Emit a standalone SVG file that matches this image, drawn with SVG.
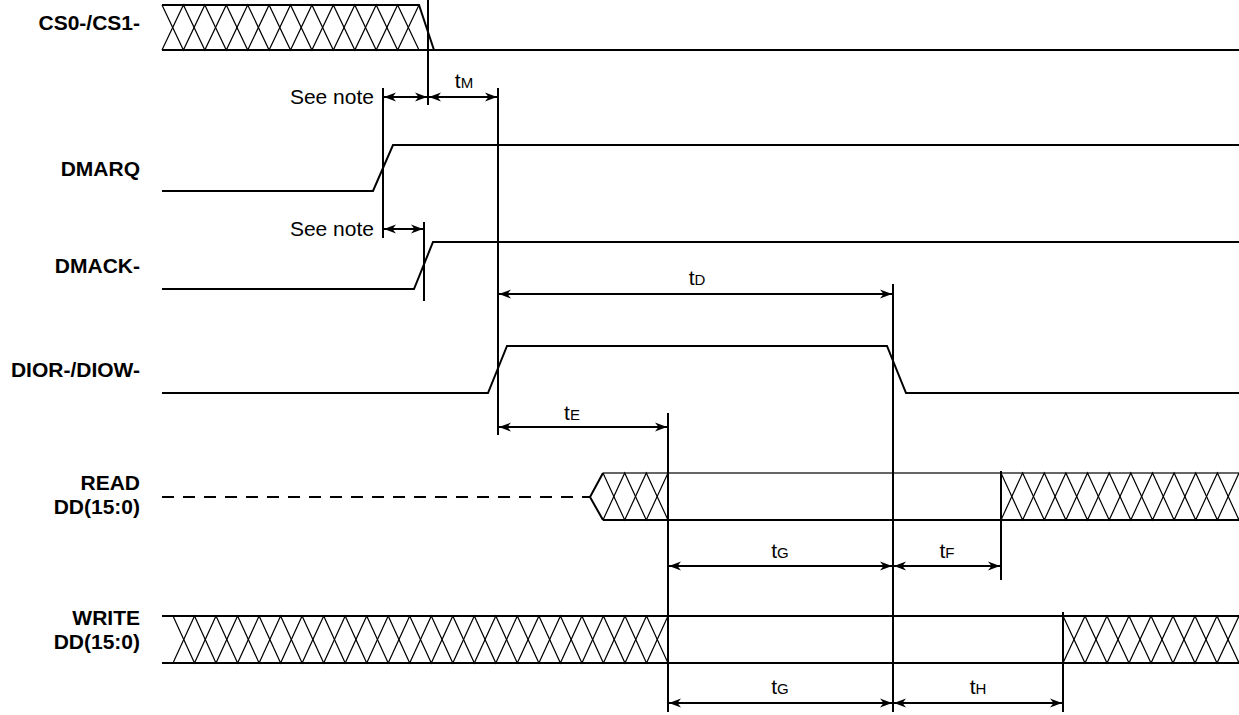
<svg xmlns="http://www.w3.org/2000/svg" width="1239" height="715" viewBox="0 0 1239 715">
<style>
.sig{stroke:#000;stroke-width:2;fill:none}
.thin{stroke:#333;stroke-width:1.5;fill:none}
.hatch{stroke:#000;stroke-width:1.2;fill:none}
.ref{stroke:#000;stroke-width:2;fill:none}
.arr{stroke:#000;stroke-width:2;fill:none;marker-start:url(#ah);marker-end:url(#ah)}
.lbl{font-family:"Liberation Sans",Arial,sans-serif;font-weight:bold;font-size:21px;text-anchor:end;fill:#000}
.note{font-family:"Liberation Sans",Arial,sans-serif;font-size:21px;text-anchor:end;fill:#000}
.tl{font-family:"Liberation Sans",Arial,sans-serif;font-size:21px;text-anchor:middle;fill:#000}
.sub{font-size:15px}
</style>
<defs>
<marker id="ah" viewBox="0 0 12 10" refX="12" refY="5" markerWidth="12" markerHeight="10" markerUnits="userSpaceOnUse" orient="auto-start-reverse">
<path d="M0,0.5 L12,5 L0,9.5 L3.5,5 z" fill="#000"/>
</marker>
</defs>
<rect width="1239" height="715" fill="#fff"/>

<g id="sig-cs">
<text class="lbl" x="140" y="30">CS0-/CS1-</text>
<polyline class="sig" points="162,5 419,5 434,50"/>
<polyline class="sig" points="162,50 1239,50"/>
<polyline class="hatch" points="162,5 183.4,50 204.8,5 226.3,50 247.7,5 269.1,50 290.5,5 311.9,50 333.3,5 354.8,50 376.2,5 397.6,50 419,5"/>
<polyline class="hatch" points="162,50 183.4,5 204.8,50 226.3,5 247.7,50 269.1,5 290.5,50 311.9,5 333.3,50 354.8,5 376.2,50 397.6,5 419,50"/>
</g>

<g id="sig-dmarq">
<text class="lbl" x="140" y="176">DMARQ</text>
<polyline class="sig" points="162,191 373,191 393,145 1239,145"/>
</g>

<g id="sig-dmack">
<text class="lbl" x="140" y="273">DMACK-</text>
<polyline class="sig" points="162,289 414,289 433,242 1239,242"/>
</g>

<g id="sig-dior">
<text class="lbl" x="140" y="377">DIOR-/DIOW-</text>
<polyline class="sig" points="162,393 488,393 507,346 887,346 906,393 1239,393"/>
</g>

<g id="sig-read">
<text class="lbl" x="140" y="490">READ</text>
<text class="lbl" x="140" y="514">DD(15:0)</text>
<line class="sig" x1="162" y1="497" x2="590" y2="497" stroke-dasharray="12,9"/>
<polyline class="sig" points="603,473 590,497 603,520"/>
<line class="thin" x1="603" y1="473" x2="1239" y2="473"/>
<line class="sig" x1="603" y1="520" x2="1239" y2="520"/>
<polyline class="hatch" points="603,473 624.7,520 646.3,473 668,520"/>
<polyline class="hatch" points="603,520 624.7,473 646.3,520 668,473"/>
<polyline class="hatch" points="1001,473 1022.6,520 1044.3,473 1065.9,520 1087.5,473 1109.2,520 1130.8,473 1152.5,520 1174.1,473 1195.7,520 1217.4,473 1239,520"/>
<polyline class="hatch" points="1001,520 1022.6,473 1044.3,520 1065.9,473 1087.5,520 1109.2,473 1130.8,520 1152.5,473 1174.1,520 1195.7,473 1217.4,520 1239,473"/>
</g>

<g id="sig-write">
<text class="lbl" x="140" y="625">WRITE</text>
<text class="lbl" x="140" y="649">DD(15:0)</text>
<line class="sig" x1="162" y1="616" x2="1239" y2="616"/>
<line class="sig" x1="162" y1="663" x2="1239" y2="663"/>
<polyline class="hatch" points="173,616 194.5,663 216,616 237.6,663 259.1,616 280.6,663 302.1,616 323.7,663 345.2,616 366.7,663 388.2,616 409.7,663 431.3,616 452.8,663 474.3,616 495.8,663 517.3,616 538.9,663 560.4,616 581.9,663 603.4,616 625,663 646.5,616 668,663"/>
<polyline class="hatch" points="173,663 194.5,616 216,663 237.6,616 259.1,663 280.6,616 302.1,663 323.7,616 345.2,663 366.7,616 388.2,663 409.7,616 431.3,663 452.8,616 474.3,663 495.8,616 517.3,663 538.9,616 560.4,663 581.9,616 603.4,663 625,616 646.5,663 668,616"/>
<polyline class="hatch" points="1063,616 1085,663 1107,616 1129,663 1151,616 1173,663 1195,616 1217,663 1239,616"/>
<polyline class="hatch" points="1063,663 1085,616 1107,663 1129,616 1151,663 1173,616 1195,663 1217,616 1239,663"/>
</g>

<g id="connectors">
<line class="ref" x1="428" y1="0" x2="428" y2="105"/>
<line class="ref" x1="383" y1="88" x2="383" y2="238"/>
<line class="ref" x1="498" y1="88" x2="498" y2="435"/>
<line class="ref" x1="424" y1="222" x2="424" y2="301"/>
<line class="ref" x1="893" y1="284" x2="893" y2="712"/>
<line class="ref" x1="668" y1="413" x2="668" y2="712"/>
<line class="ref" x1="1001" y1="471" x2="1001" y2="580"/>
<line class="ref" x1="1063" y1="612" x2="1063" y2="712"/>

<line class="arr" x1="384" y1="97" x2="427" y2="97"/>
<line class="arr" x1="429" y1="97" x2="497" y2="97"/>
<line class="arr" x1="384" y1="229" x2="423" y2="229"/>
<line class="arr" x1="499" y1="294" x2="892" y2="294"/>
<line class="arr" x1="499" y1="427" x2="667" y2="427"/>
<line class="arr" x1="669" y1="566" x2="892" y2="566"/>
<line class="arr" x1="894" y1="566" x2="1000" y2="566"/>
<line class="arr" x1="669" y1="703" x2="892" y2="703"/>
<line class="arr" x1="894" y1="703" x2="1062" y2="703"/>

<text class="note" x="374" y="104">See note</text>
<text class="note" x="374" y="236">See note</text>
<text class="tl" x="464" y="88">t<tspan class="sub">M</tspan></text>
<text class="tl" x="697" y="285">t<tspan class="sub">D</tspan></text>
<text class="tl" x="572" y="420">t<tspan class="sub">E</tspan></text>
<text class="tl" x="780" y="558">t<tspan class="sub">G</tspan></text>
<text class="tl" x="947" y="558">t<tspan class="sub">F</tspan></text>
<text class="tl" x="780" y="694">t<tspan class="sub">G</tspan></text>
<text class="tl" x="978" y="694">t<tspan class="sub">H</tspan></text>
</g>
</svg>
